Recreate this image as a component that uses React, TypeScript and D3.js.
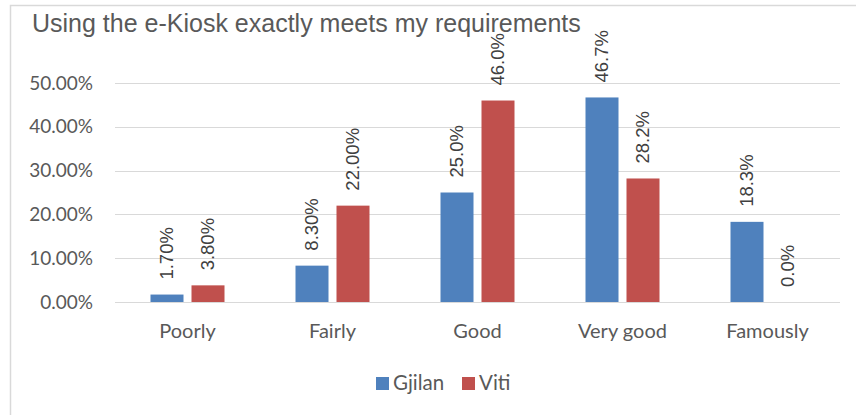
import React from "react";
import * as d3 from "d3";

const categories = ["Poorly", "Fairly", "Good", "Very good", "Famously"];
const seriesNames = ["Gjilan", "Viti"];
const gjilan = [0.017, 0.083, 0.25, 0.467, 0.183];
const viti = [0.038, 0.22, 0.46, 0.282, 0.0];
const gjilanLabels = ["1.70%", "8.30%", "25.0%", "46.7%", "18.3%"];
const vitiLabels = ["3.80%", "22.00%", "46.0%", "28.2%", "0.0%"];
const yTicks = [0, 0.1, 0.2, 0.3, 0.4, 0.5];
const colors = ["#4F81BD", "#C0504D"];

export default function App() {
  const W = 856, H = 415;
  const left = 115, right = 840, top = 83, bottom = 302;
  const x0 = d3.scaleBand().domain(categories).range([left, right]).paddingInner(0).paddingOuter(0);
  const y = d3.scaleLinear().domain([0, 0.5]).range([bottom, top]);
  const barW = 33, gap = 8;
  const series = [gjilan, viti];
  const labels = [gjilanLabels, vitiLabels];
  const fmt = d3.format(".2%");
  return (
    <svg width={W} height={H} style={{ position: "absolute", left: 0, top: 0, background: "#fff" }}>
      <rect x={10.5} y={5.5} width={W} height={H} fill="#fff" stroke="#d9d9d9" strokeWidth={1.5} />
      <text x={32} y={32} fontFamily="Liberation Sans, Arial, sans-serif" fontSize={25} fill="#595959">
        Using the e-Kiosk exactly meets my requirements
      </text>
      {yTicks.map((t) => (
        <g key={t}>
          <line x1={left} x2={right} y1={Math.round(y(t)) + 0.5} y2={Math.round(y(t)) + 0.5} stroke="#d9d9d9" strokeWidth={1} />
          <text x={93} y={y(t)} dy="0.35em" textAnchor="end" fontFamily="Lato, Calibri, sans-serif" fontSize={19} fill="#595959">
            {fmt(t)}
          </text>
        </g>
      ))}
      {categories.map((c, i) => {
        const cx = x0(c)! + x0.bandwidth() / 2;
        return (
          <g key={c}>
            {series.map((s, k) => {
              const bx = k === 0 ? cx - gap / 2 - barW : cx + gap / 2;
              const v = s[i];
              const by = y(v);
              const lx = bx + barW / 2;
              const ly = by - 15;
              return (
                <g key={k}>
                  {v > 0 && <rect x={bx} y={by} width={barW} height={bottom - by} fill={colors[k]} />}
                  <text
                    transform={`translate(${lx},${ly}) rotate(-90)`}
                    dy="0.35em"
                    fontFamily="Liberation Sans, Arial, sans-serif"
                    fontSize={18.5}
                    fill="#404040"
                  >
                    {labels[k][i]}
                  </text>
                </g>
              );
            })}
            <text x={cx} y={338} textAnchor="middle" fontFamily="Lato, Calibri, sans-serif" fontSize={20} fill="#595959">
              {c}
            </text>
          </g>
        );
      })}
      {seriesNames.map((n, k) => {
        const lx = k === 0 ? 376 : 462;
        return (
          <g key={n}>
            <rect x={lx} y={377} width={13} height={13} fill={colors[k]} />
            <text x={lx + 17} y={383} dy="0.35em" fontFamily="Lato, Calibri, sans-serif" fontSize={20.5} fill="#595959">
              {n}
            </text>
          </g>
        );
      })}
    </svg>
  );
}
